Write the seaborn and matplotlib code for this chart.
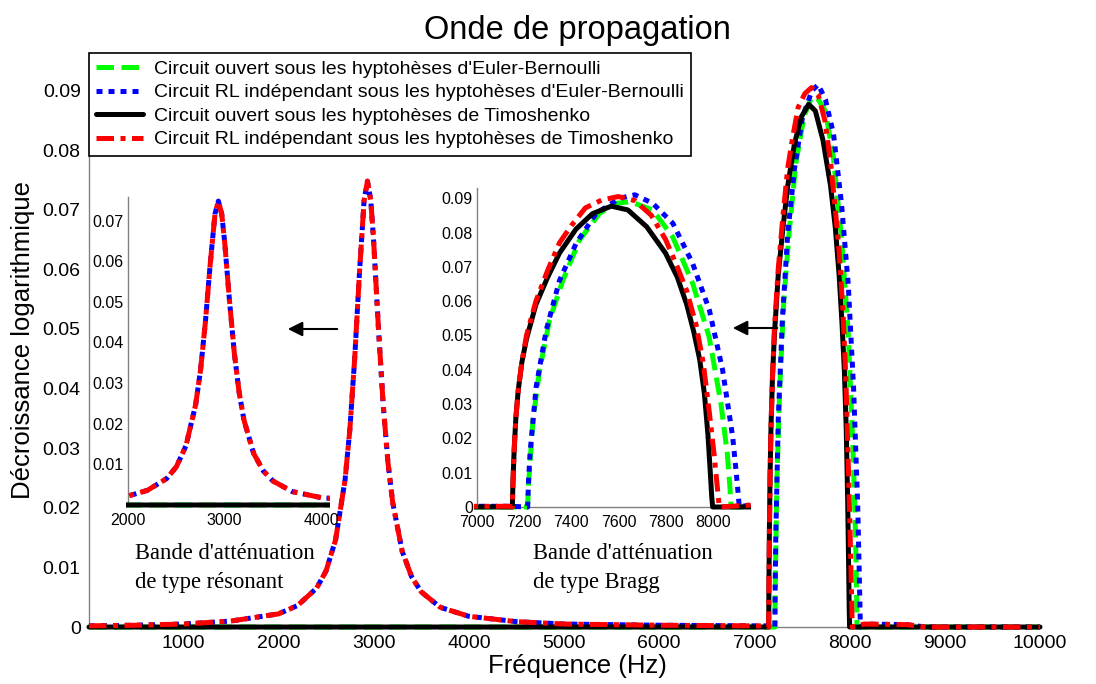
import matplotlib
matplotlib.use("Agg")
import matplotlib.pyplot as plt
import seaborn as sns
import pandas as pd
from matplotlib.ticker import FuncFormatter
from matplotlib.transforms import Bbox, TransformedBbox
from matplotlib.colors import to_hex

# series names (legend order)
labels = [
    "Circuit ouvert sous les hyptohèses d'Euler-Bernoulli",
    "Circuit RL indépendant sous les hyptohèses d'Euler-Bernoulli",
    "Circuit ouvert sous les hyptohèses de Timoshenko",
    "Circuit RL indépendant sous les hyptohèses de Timoshenko",
]
colors = ["#00ff00", "#0000ff", "#000000", "#ff0000"]

# resonant band (both RL circuits)
res_freq = [10, 500, 1000, 1500, 2000, 2200, 2400, 2500, 2600, 2700, 2750, 2800,
            2850, 2900, 2935, 2970, 3000, 3050, 3100, 3150, 3200, 3300, 3400,
            3500, 3700, 4000, 4500, 5000, 6000, 7000, 7140]
res_val = [0.0002, 0.0003, 0.0005, 0.0010, 0.0022, 0.0036, 0.0065, 0.0094, 0.0146,
           0.0247, 0.0331, 0.0448, 0.0591, 0.0716, 0.0748, 0.0716, 0.0648, 0.0503,
           0.0374, 0.0277, 0.0209, 0.0127, 0.0084, 0.0059, 0.0033, 0.0018, 0.0009,
           0.0005, 0.0003, 0.0002, 0.0002]

# Bragg band
eb_open_f = [7215, 7218, 7223, 7237, 7266, 7308, 7364, 7435, 7520, 7590, 7650,
             7745, 7830, 7915, 7985, 8035, 8062, 8073, 8078]
eb_open_v = [0, 0.006, 0.0107, 0.025, 0.040, 0.0545, 0.066, 0.0778, 0.0856, 0.0885,
             0.089, 0.0866, 0.0788, 0.0652, 0.0496, 0.0302, 0.0156, 0.006, 0]

eb_rl_f = [7215, 7219, 7225, 7251, 7294, 7350, 7421, 7506, 7605, 7670, 7746, 7831,
           7915, 7986, 8042, 8085, 8100, 8108, 8113]
eb_rl_v = [0, 0.008, 0.0156, 0.035, 0.0516, 0.066, 0.0769, 0.0856, 0.090, 0.091,
           0.0885, 0.0827, 0.071, 0.0574, 0.040, 0.0204, 0.010, 0.004, 0]

tim_open_f = [7150, 7153, 7158, 7165, 7175, 7190, 7210, 7250, 7300, 7350, 7420,
              7490, 7570, 7640, 7720, 7800, 7850, 7890, 7920, 7945, 7965, 7980,
              7990, 7996, 8000]
tim_open_v = [0, 0.008, 0.017, 0.026, 0.034, 0.042, 0.049, 0.059, 0.067, 0.074,
              0.081, 0.0855, 0.0877, 0.0866, 0.0817, 0.074, 0.067, 0.059, 0.051,
              0.043, 0.033, 0.021, 0.010, 0.003, 0]

tim_rl_f = [7150, 7153, 7158, 7165, 7175, 7190, 7210, 7250, 7300, 7350, 7400,
            7460, 7530, 7600, 7670, 7740, 7800, 7850, 7890, 7930, 7960, 7985,
            8005, 8018, 8028]
tim_rl_v = [0, 0.008, 0.017, 0.026, 0.034, 0.042, 0.050, 0.060, 0.069, 0.077,
            0.082, 0.0872, 0.0895, 0.0905, 0.0893, 0.085, 0.078, 0.070, 0.063,
            0.053, 0.042, 0.028, 0.016, 0.007, 0]

tail_f = [8150, 8600, 8800, 10000]
tail_v = [0.0005, 0.0004, 0, 0]

series = {
    labels[0]: ([10] + eb_open_f + [10000], [0] + eb_open_v + [0]),
    labels[1]: (res_freq + eb_rl_f + tail_f, res_val + eb_rl_v + tail_v),
    labels[2]: ([10] + tim_open_f + [10000], [0] + tim_open_v + [0]),
    labels[3]: (res_freq + tim_rl_f + tail_f, res_val + tim_rl_v + tail_v),
}
df = pd.concat([pd.DataFrame({"circuit": k, "freq": f, "val": v})
                for k, (f, v) in series.items()], ignore_index=True)

palette = dict(zip(labels, colors))
dashes = dict(zip(labels, [(3.5, 1.5), (1.2, 1.2), "", (3.5, 1.3, 1.0, 1.3)]))

sns.set_style("white")
plt.rcParams["font.family"] = ["Liberation Sans", "DejaVu Sans"]
plt.rcParams["text.color"] = "black"
plt.rcParams["axes.labelcolor"] = "black"
plt.rcParams["xtick.labelcolor"] = "black"
plt.rcParams["ytick.labelcolor"] = "black"

fig = plt.figure(figsize=(10.96, 6.84), dpi=100)
fmt = FuncFormatter(lambda v, _: f"{v:g}")


def draw(ax, lw=3.6):
    sns.lineplot(data=df, x="freq", y="val", hue="circuit", style="circuit",
                 hue_order=labels, style_order=labels, palette=palette,
                 dashes=dashes, estimator=None, sort=False, linewidth=lw,
                 legend=False, ax=ax)
    # let the thick zero line show fully below the axis, stack as in legend
    clip = TransformedBbox(Bbox([[-0.01, -0.05], [1.01, 1.05]]), ax.transAxes)
    for ln in ax.get_lines():
        ln.set_clip_path(None)
        ln.set_clip_box(clip)
        ln.set_zorder(3 + 0.1 * colors.index(to_hex(ln.get_color())))
    ax.set_facecolor("none")
    for s in ["top", "right"]:
        ax.spines[s].set_visible(False)
    for s in ["left", "bottom"]:
        ax.spines[s].set_color("#808080")
        ax.spines[s].set_linewidth(1.0)
    ax.yaxis.set_major_formatter(fmt)
    ax.set_xlabel("")
    ax.set_ylabel("")


# main axes
ax = fig.add_axes([0.0812, 0.0833, 0.8677, 0.8392])
draw(ax)
ax.set_xlim(10, 10000)
ax.set_ylim(0, 0.0963)
ax.set_xticks(range(1000, 10001, 1000))
ax.set_yticks([i / 100 for i in range(10)])
ax.tick_params(direction="in", length=4, width=0.8, color="#808080",
               labelsize=14, pad=6)
ax.set_xlabel("Fréquence (Hz)", fontsize=18.5)
ax.set_ylabel("Décroissance logarithmique", fontsize=18.5)
ax.xaxis.set_label_coords(0.514, -0.047)
ax.yaxis.set_label_coords(-0.057, 0.5)

handles = sorted(ax.get_lines()[:4], key=lambda l: l.get_zorder())
leg = ax.legend(handles, labels, loc="upper left",
                bbox_to_anchor=(0, 1), borderaxespad=0, fancybox=False,
                edgecolor="black", framealpha=1, fontsize=14, handlelength=2.4,
                handletextpad=0.55, labelspacing=0.3, borderpad=0.38)
leg.get_frame().set_linewidth(1.2)
leg.set_zorder(10)

fig.text(577 / 1096, 1 - 30 / 684, "Onde de propagation", fontsize=23.5,
         ha="center", va="center")

# inset: resonant band
ax1 = fig.add_axes([0.1168, 0.2617, 0.1825, 0.4503])
draw(ax1)
ax1.set_xlim(2000, 4070)
ax1.set_ylim(0, 0.0758)
ax1.set_xticks([2000, 3000, 4000])
ax1.set_yticks([0.01, 0.02, 0.03, 0.04, 0.05, 0.06, 0.07])
ax1.tick_params(direction="in", length=3, width=0.8, color="#808080",
                labelsize=11.5, pad=3)
ax1.tick_params(axis="x", pad=6)

# inset: Bragg band
ax2 = fig.add_axes([0.4352, 0.2588, 0.2473, 0.4664])
draw(ax2)
ax2.set_xlim(7000, 8150)
ax2.set_ylim(0, 0.093)
ax2.set_xticks(range(7000, 8001, 200))
ax2.set_yticks([i / 100 for i in range(10)])
ax2.tick_params(direction="in", length=3, width=0.8, color="#808080",
                labelsize=11.5, pad=3)
ax2.tick_params(axis="x", pad=6)

serif = ["Liberation Serif", "DejaVu Serif"]
fig.text(135 / 1096, 1 - 568 / 684, "Bande d'atténuation\nde type résonant",
         family=serif, fontsize=16.3, ha="left", va="center", linespacing=1.5)
fig.text(533 / 1096, 1 - 568 / 684, "Bande d'atténuation\nde type Bragg",
         family=serif, fontsize=16.3, ha="left", va="center", linespacing=1.5)

arrow = dict(arrowstyle="-|>", color="black", lw=1.5, mutation_scale=22)
ax2.annotate("", xy=(285 / 1096, 1 - 329 / 684), xytext=(340 / 1096, 1 - 329 / 684),
             xycoords="figure fraction", textcoords="figure fraction",
             arrowprops=arrow)
ax2.annotate("", xy=(730 / 1096, 1 - 328 / 684), xytext=(780 / 1096, 1 - 328 / 684),
             xycoords="figure fraction", textcoords="figure fraction",
             arrowprops=arrow)

fig.savefig("out.png", dpi=100)
